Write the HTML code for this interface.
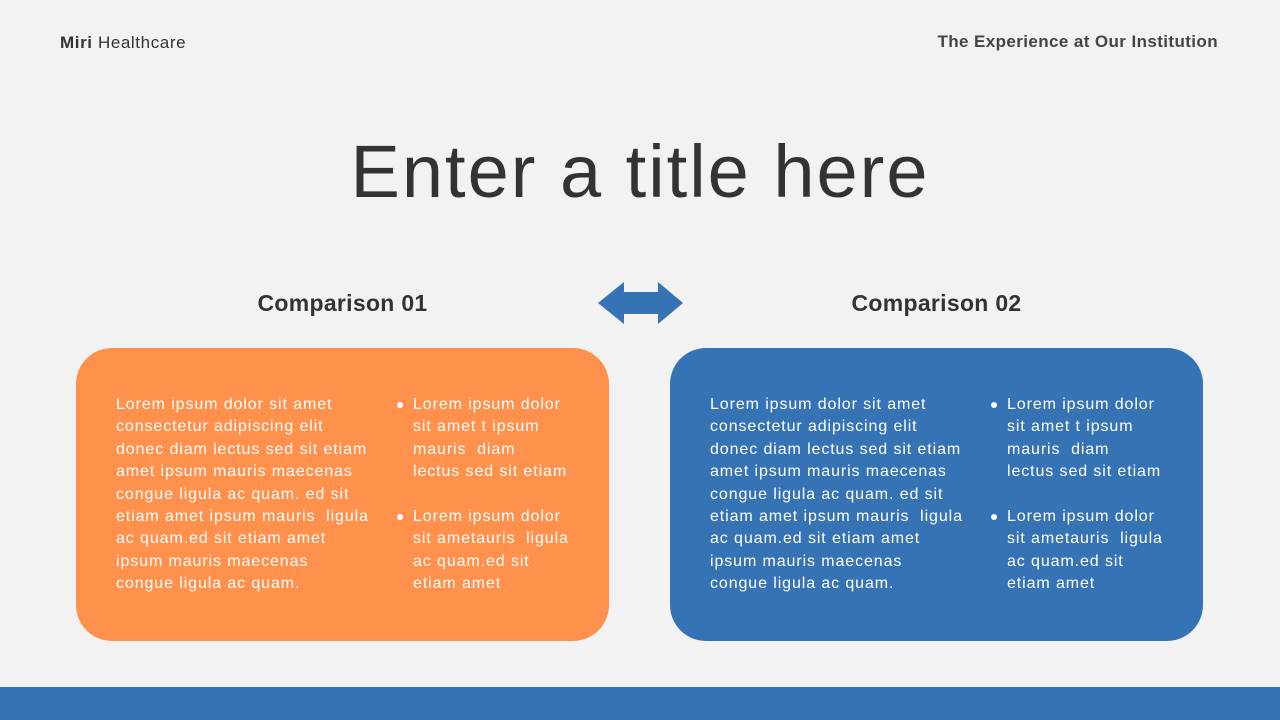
<!DOCTYPE html>
<html><head><meta charset="utf-8"><style>
body{margin:0;width:1280px;height:720px;background:#f2f2f2;position:relative;overflow:hidden;font-family:"Liberation Sans",sans-serif;color:#333}
.a{position:absolute}
.box{position:absolute;top:348px;width:533px;height:293px;border-radius:36px;color:#fff;font-size:16px;letter-spacing:0.9px;line-height:22.4px}
.c1{position:absolute;left:40px;top:46px;width:280px;white-space:pre}
.c2{position:absolute;left:337px;top:46px;width:180px;white-space:pre}
.dot{position:absolute;width:6px;height:6px;border-radius:50%;background:#fff}
</style></head><body>
<div class="a" style="left:60px;top:33px;font-size:17px;letter-spacing:0.6px"><b>Miri</b> Healthcare</div>
<div class="a" style="right:62px;top:32px;font-size:17px;font-weight:bold;color:#444;letter-spacing:0.4px">The Experience at Our Institution</div>
<div class="a" style="left:0;width:1280px;top:129px;text-align:center;font-size:74px;letter-spacing:2px;color:#333">Enter a title here</div>
<div class="a" style="left:76px;width:533px;top:290px;text-align:center;font-size:23px;font-weight:bold;letter-spacing:0.3px">Comparison 01</div>
<div class="a" style="left:670px;width:533px;top:290px;text-align:center;font-size:23px;font-weight:bold;letter-spacing:0.3px">Comparison 02</div>
<svg class="a" style="left:0;top:0" width="1280" height="720"><polygon points="598,303 624,282 624,292 658,292 658,282 683,303 658,324 658,314 624,314 624,324" fill="#3673b5"/></svg>
<div class="box" style="left:76px;background:#ff914d">
<div class="c1">Lorem ipsum dolor sit amet
consectetur adipiscing elit
donec diam lectus sed sit etiam
amet ipsum mauris maecenas
congue ligula ac quam. ed sit
etiam amet ipsum mauris  ligula
ac quam.ed sit etiam amet
ipsum mauris maecenas
congue ligula ac quam.</div>
<div class="c2">Lorem ipsum dolor
sit amet t ipsum
mauris  diam
lectus sed sit etiam

Lorem ipsum dolor
sit ametauris  ligula
ac quam.ed sit
etiam amet</div>
<div class="dot" style="left:321px;top:54px"></div><div class="dot" style="left:321px;top:166px"></div>
</div>
<div class="box" style="left:670px;background:#3673b5">
<div class="c1">Lorem ipsum dolor sit amet
consectetur adipiscing elit
donec diam lectus sed sit etiam
amet ipsum mauris maecenas
congue ligula ac quam. ed sit
etiam amet ipsum mauris  ligula
ac quam.ed sit etiam amet
ipsum mauris maecenas
congue ligula ac quam.</div>
<div class="c2">Lorem ipsum dolor
sit amet t ipsum
mauris  diam
lectus sed sit etiam

Lorem ipsum dolor
sit ametauris  ligula
ac quam.ed sit
etiam amet</div>
<div class="dot" style="left:321px;top:54px"></div><div class="dot" style="left:321px;top:166px"></div>
</div>
<div class="a" style="left:0;top:687px;width:1280px;height:33px;background:#3673b5"></div>
</body></html>
